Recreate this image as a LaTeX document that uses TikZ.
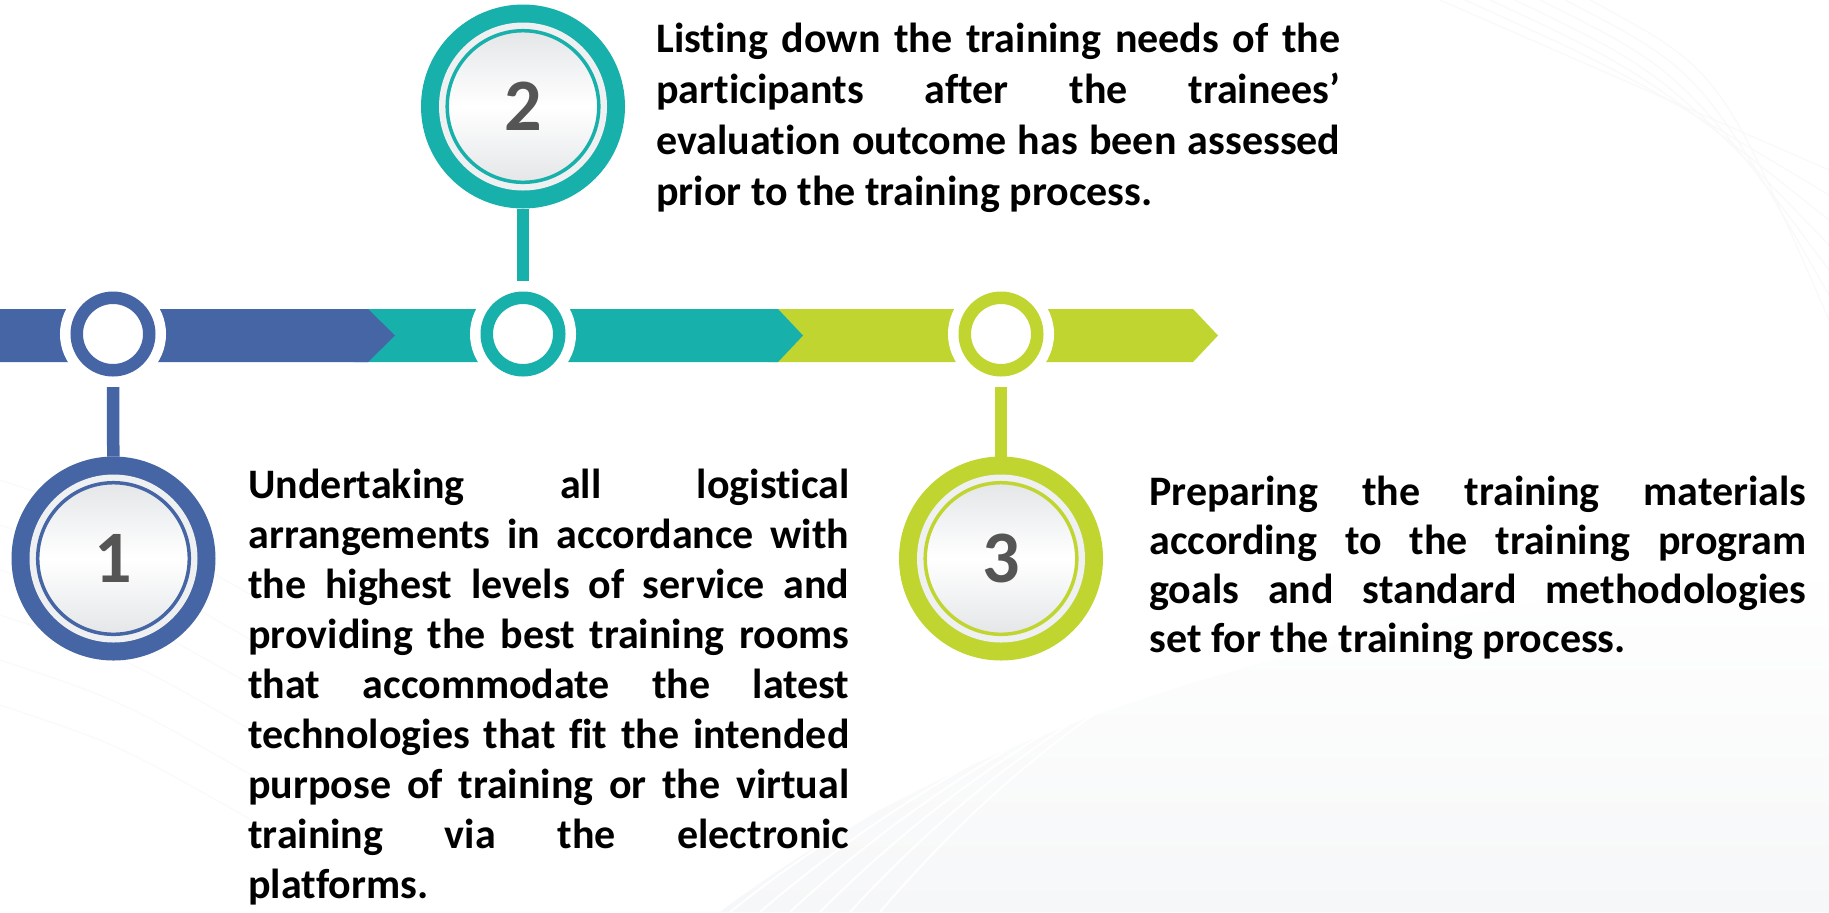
\documentclass[tikz,border=0pt]{standalone}
\usepackage{fontspec}
\setmainfont{Carlito}[Ligatures=NoCommon]
\hyphenpenalty=10000
\tolerance=10000
\definecolor{stepblue}{HTML}{4665A5}
\definecolor{stepteal}{HTML}{18B0AA}
\definecolor{steplime}{HTML}{C1D530}
\definecolor{numgrey}{HTML}{555555}
\definecolor{gapgrey}{HTML}{EEF0F2}
\definecolor{discgrey}{HTML}{E4E6E8}
\definecolor{wavegrey}{HTML}{F6F7F8}
\begin{document}
\begin{tikzpicture}[x=0.5pt,y=-0.5pt,
    ring/.style={circle,draw=#1,line width=6.25pt,fill=white,inner sep=0pt,
      minimum size=36.25pt,preaction={draw=white,line width=16.75pt}},
    big/.style={circle,fill=#1,inner sep=0pt,outer sep=0pt,minimum size=102pt,
      font=\fontsize{37pt}{37pt}\selectfont\bfseries,text=numgrey,
      path picture={
        \fill[gapgrey] (path picture bounding box.center) circle[radius=42pt];
        \shade[top color=discgrey,bottom color=discgrey,middle color=white]
          (path picture bounding box.center) circle[radius=37.9pt];
        \draw[#1,line width=1.75pt] (path picture bounding box.center) circle[radius=37.9pt];}},
    stem/.style={draw=#1,line width=6.25pt,shorten <=5.25pt},
    desc/.style={anchor=north west,inner sep=0pt,align=justify,
      font=\fontsize{21pt}{#1}\selectfont\bfseries}]
  \useasboundingbox (0,0) rectangle (1829,912);
  % background waves
  \fill[white] (0,0) rectangle (1829,912);
  \shade[top color=white,bottom color=wavegrey] (720,912) .. controls (1000,700) and (1400,610) .. (1829,560) -- (1829,912) -- cycle;
  \foreach \i in {0,...,6}
    \draw[white,line width=1pt] (700+30*\i,912) .. controls (1000+20*\i,690-10*\i) and (1400,600-12*\i) .. (1829,540-10*\i);
  \foreach \i in {0,...,6}
    \draw[gray!5,line width=0.6pt] (1440+25*\i,0) .. controls (1600+20*\i,70) .. (1829,170+25*\i);
  \foreach \i in {0,...,5}
    \draw[gray!4,line width=0.6pt] (0,480+45*\i) .. controls (120,520+45*\i) .. (260,600+45*\i);
  % arrow bars
  \fill[steplime] (768,309) -- (1193,309) -- (1218,335.5) -- (1193,362) -- (768,362) -- cycle;
  \fill[stepteal] (354,309) -- (778,309) -- (803,335.5) -- (778,362) -- (354,362) -- cycle;
  \fill[stepblue] (0,309) -- (368,309) -- (395,335.5) -- (368,362) -- (0,362) -- cycle;
  % small rings on the bar
  \node[ring=stepblue] (r1) at (113,334) {};
  \node[ring=stepteal] (r2) at (523,334) {};
  \node[ring=steplime] (r3) at (1001,334) {};
  % numbered circles
  \node[big=stepblue] (c1) at (113.5,558.5) {1};
  \node[big=stepteal] (c2) at (523,106.5) {2};
  \node[big=steplime] (c3) at (1001,558.5) {3};
  \draw[stem=stepblue] (r1) -- (c1);
  \draw[stem=stepteal] (r2) -- (c2);
  \draw[stem=steplime] (r3) -- (c3);
  % texts
  \node[desc=25pt,text width=300.5pt] (t1) at (248,469) {Undertaking all logistical\linebreak
    arrangements in accordance with\linebreak the highest levels of service and\linebreak
    providing the best training rooms\linebreak that accommodate the latest\linebreak
    technologies that fit the intended\linebreak purpose of training or the virtual\linebreak
    training via the electronic\linebreak platforms.};
  \node[desc=25.5pt,text width=342pt] (t2) at (656,23) {Listing down the training needs of the\linebreak
    participants after the trainees’\linebreak evaluation outcome has been assessed\linebreak
    prior to the training process.};
  \node[desc=24.5pt,text width=328.5pt] (t3) at (1149,475.5) {Preparing the training materials\linebreak
    according to the training program\linebreak goals and standard methodologies\linebreak
    set for the training process.};
\end{tikzpicture}
\end{document}
